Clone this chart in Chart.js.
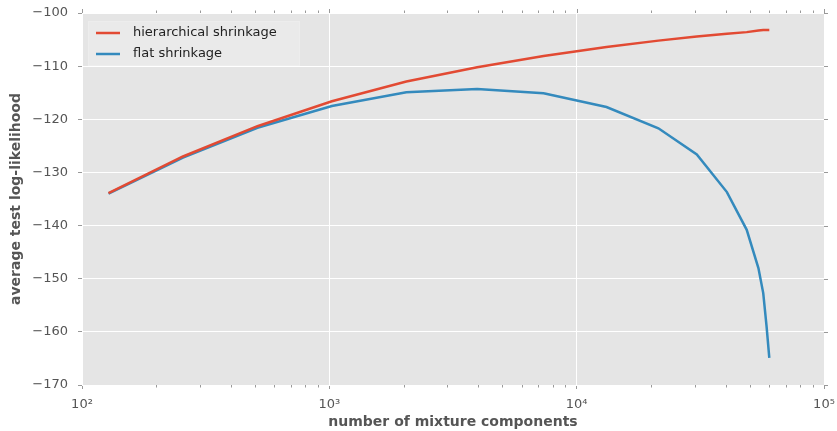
<!DOCTYPE html>
<html>
<head>
<meta charset="utf-8">
<script src="https://cdn.jsdelivr.net/npm/chart.js@4/dist/chart.umd.min.js"></script>
<style>
  body { margin: 0; background: #fff; }
  #wrap { width: 837px; height: 431px; }
</style>
</head>
<body>
<div id="wrap"><canvas id="myChart" width="837" height="431"></canvas></div>
<script>
// values
const components = [128, 256, 512, 1024, 2048, 3960, 7350, 13200, 21400, 30600, 40500, 48700, 54300, 56800, 58600, 60100];
const hierarchical = [-133.9, -127.0, -121.3, -116.6, -112.9, -110.2, -108.1, -106.4, -105.2, -104.4, -103.9, -103.6, -103.3, -103.2, -103.2, -103.2];
const flat = [-134.0, -127.2, -121.6, -117.5, -114.9, -114.3, -115.1, -117.7, -121.7, -126.6, -133.7, -140.8, -148.0, -152.7, -159.0, -164.9];
const xTicks = [100, 1000, 10000, 100000];
const yTicks = [-170, -160, -150, -140, -130, -120, -110, -100];
const sup = {2: '\u00b2', 3: '\u00b3', 4: '\u2074', 5: '\u2075'};

const FONT = "'DejaVu Sans', sans-serif";

function pts(ys) {
  return components.map((x, i) => ({x: x, y: ys[i]}));
}

// gray panel behind the lines
const panelBg = {
  id: 'panelBg',
  beforeDraw(chart) {
    const a = chart.chartArea, c = chart.ctx;
    c.save();
    c.fillStyle = '#E5E5E5';
    c.fillRect(a.left, a.top, a.right - a.left, a.bottom - a.top);
    c.restore();
  }
};

// minor ticks + mirrored ticks on top / right
const extraTicks = {
  id: 'extraTicks',
  afterDraw(chart) {
    const c = chart.ctx, a = chart.chartArea;
    const xs = chart.scales.x, ys = chart.scales.y;
    c.save();
    c.strokeStyle = '#999';
    c.lineWidth = 1;
    c.beginPath();
    for (let d = 100; d < 100000; d *= 10) {
      for (let m = 2; m <= 9; m++) {
        const px = Math.round(xs.getPixelForValue(d * m)) + 0.5;
        c.moveTo(px, a.bottom); c.lineTo(px, a.bottom + 2.5);
        c.moveTo(px, a.top); c.lineTo(px, a.top - 2.5);
      }
    }
    xTicks.forEach(v => {
      const px = Math.round(xs.getPixelForValue(v)) + 0.5;
      c.moveTo(px, a.top); c.lineTo(px, a.top - 4);
    });
    yTicks.forEach(v => {
      const py = Math.round(ys.getPixelForValue(v)) + 0.5;
      c.moveTo(a.right, py); c.lineTo(a.right + 4, py);
    });
    c.stroke();
    c.restore();
  }
};

// legend box in the upper left of the panel
const boxLegend = {
  id: 'boxLegend',
  afterDatasetsDraw(chart) {
    const c = chart.ctx, a = chart.chartArea;
    const x0 = a.left + 6, y0 = a.top + 8;
    c.save();
    c.fillStyle = 'rgba(235,235,235,0.8)';
    c.fillRect(x0, y0, 212, 45);
    c.strokeStyle = '#EDEDED';
    c.lineWidth = 1;
    c.strokeRect(x0 + 0.5, y0 + 0.5, 211, 44);
    c.font = '13px ' + FONT;
    c.textAlign = 'left';
    c.textBaseline = 'middle';
    chart.data.datasets.forEach((ds, i) => {
      const y = y0 + 12 + i * 21;
      c.strokeStyle = ds.borderColor;
      c.lineWidth = 2.5;
      c.beginPath();
      c.moveTo(x0 + 8, y); c.lineTo(x0 + 32, y);
      c.stroke();
      c.fillStyle = '#222';
      c.fillText(ds.label, x0 + 45, y);
    });
    c.restore();
  }
};

const ctx = document.getElementById('myChart');
const myChart = new Chart(ctx, {
  type: 'scatter',
  data: {
    datasets: [
      {
        label: 'hierarchical shrinkage',
        data: pts(hierarchical),
        showLine: true,
        borderColor: '#E24A33',
        backgroundColor: '#E24A33',
        borderWidth: 2.5,
        pointRadius: 0,
        tension: 0
      },
      {
        label: 'flat shrinkage',
        data: pts(flat),
        showLine: true,
        borderColor: '#348ABD',
        backgroundColor: '#348ABD',
        borderWidth: 2.5,
        pointRadius: 0,
        tension: 0
      }
    ]
  },
  options: {
    responsive: false,
    animation: false,
    events: [],
    layout: { padding: { top: 13, right: 13, left: 0, bottom: 0 } },
    plugins: { legend: { display: false }, tooltip: { enabled: false } },
    scales: {
      x: {
        type: 'logarithmic',
        min: 100,
        max: 100000,
        afterBuildTicks: s => { s.ticks = xTicks.map(v => ({value: v})); },
        afterFit: s => { s.height = 46; s.paddingLeft = 0; s.paddingRight = 0; },
        border: { display: false },
        grid: { color: '#fff', lineWidth: 1, tickColor: '#999', tickLength: 4 },
        ticks: {
          color: '#555',
          font: { family: FONT, size: 13 },
          padding: 8,
          maxRotation: 0,
          callback: v => '10' + sup[Math.round(Math.log10(v))]
        },
        title: {
          display: true,
          text: 'number of mixture components',
          color: '#555',
          font: { family: FONT, size: 14, weight: 'bold' },
          padding: { top: 0, bottom: 0 }
        }
      },
      y: {
        min: -170,
        max: -100,
        afterBuildTicks: s => { s.ticks = yTicks.map(v => ({value: v})); },
        afterFit: s => { s.width = 82; s.paddingTop = 0; s.paddingBottom = 0; },
        border: { display: false },
        grid: { color: '#fff', lineWidth: 1, tickColor: '#999', tickLength: 4 },
        ticks: {
          color: '#555',
          font: { family: FONT, size: 13 },
          padding: 10,
          callback: v => (v < 0 ? '\u2212' : '') + Math.abs(v)
        },
        title: {
          display: true,
          text: 'average test log-likelihood',
          color: '#555',
          font: { family: FONT, size: 14, weight: 'bold' },
          padding: { top: 8, bottom: 0 }
        }
      }
    }
  },
  plugins: [panelBg, extraTicks, boxLegend]
});
</script>
</body>
</html>
